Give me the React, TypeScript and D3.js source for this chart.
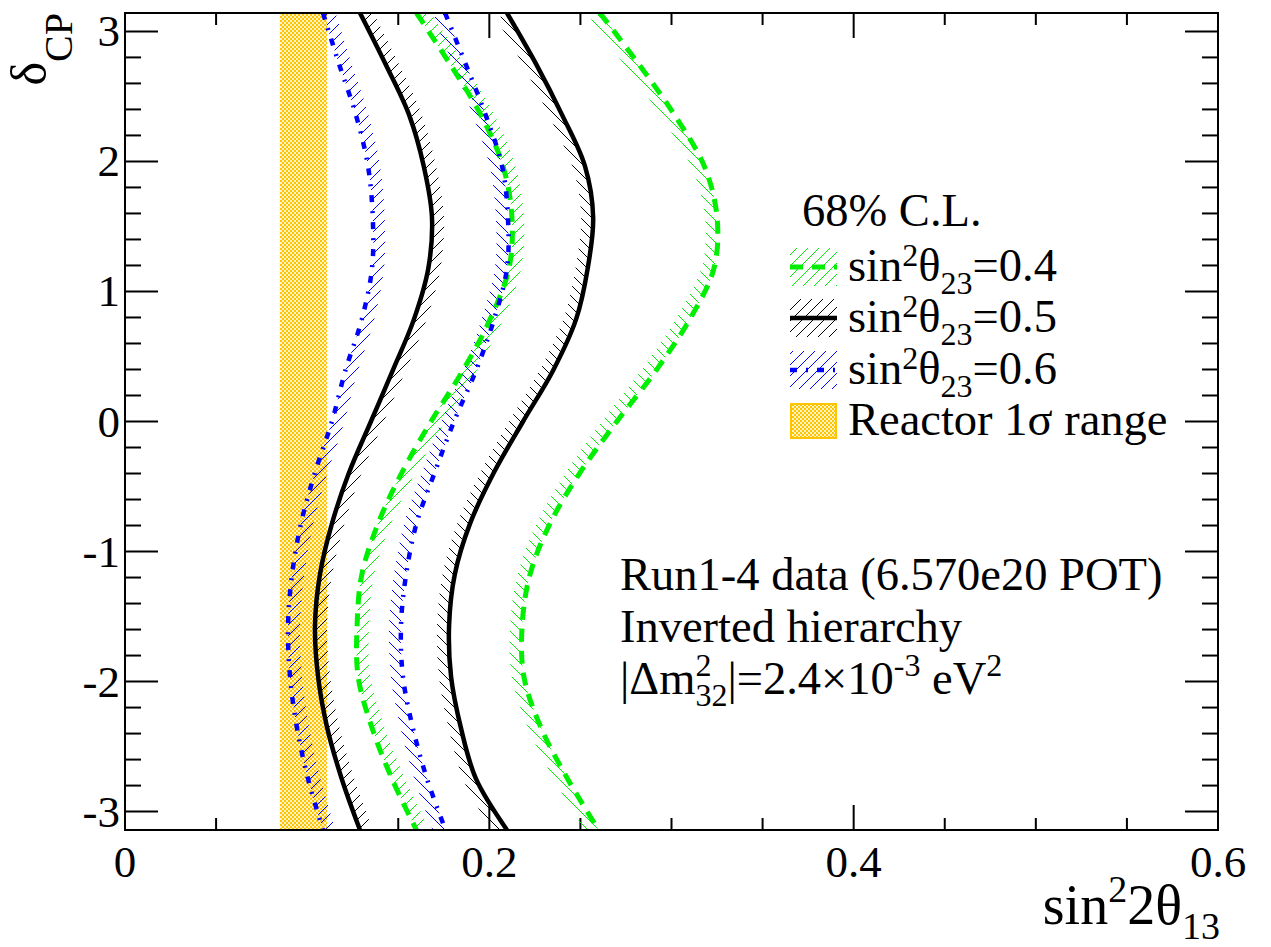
import React from 'react';
import * as d3 from 'd3';

// delta_CP sampling (radians), top to bottom
const DELTA_CP = [3.1416, 2.7489, 2.3562, 1.9635, 1.5708, 1.1781, 0.7854, 0.3927, 0, -0.3927, -0.7854, -1.1781, -1.5708, -1.9635, -2.3562, -2.7489, -3.1416];

// sin^2(theta23) = 0.4 (green dashed)
const GREEN_LEFT = [0.160, 0.1784, 0.1954, 0.2075, 0.2124, 0.2108, 0.2004, 0.1855, 0.168, 0.152, 0.1389, 0.130, 0.1274, 0.128, 0.1356, 0.1466, 0.160];
const GREEN_RIGHT = [0.2607, 0.282, 0.3017, 0.318, 0.325, 0.3233, 0.310, 0.2915, 0.270, 0.2498, 0.2333, 0.2223, 0.218, 0.219, 0.2284, 0.243, 0.260];

// sin^2(theta23) = 0.5 (black solid)
const BLACK_LEFT = [0.129, 0.143, 0.156, 0.164, 0.1685, 0.1665, 0.1586, 0.147, 0.135, 0.123, 0.1136, 0.107, 0.1043, 0.106, 0.111, 0.119, 0.129];
const BLACK_RIGHT = [0.2097, 0.2257, 0.240, 0.2525, 0.257, 0.254, 0.2476, 0.235, 0.2185, 0.2025, 0.1894, 0.181, 0.1779, 0.179, 0.1844, 0.1927, 0.2097];

// sin^2(theta23) = 0.6 (blue dash-dot)
const BLUE_LEFT = [0.1087, 0.1175, 0.1268, 0.1334, 0.136, 0.1356, 0.130, 0.121, 0.1136, 0.1043, 0.0966, 0.0917, 0.0895, 0.0906, 0.0944, 0.1005, 0.1087];
const BLUE_RIGHT = [0.1757, 0.187, 0.198, 0.207, 0.2102, 0.2097, 0.2026, 0.1927, 0.1806, 0.170, 0.160, 0.1543, 0.1515, 0.1526, 0.158, 0.1658, 0.176];

// reactor 1 sigma range in sin^2(2 theta13)
const REACTOR_RANGE = [0.085, 0.111];

const X_TICK_LABELS = ['0', '0.2', '0.4', '0.6'];
const Y_TICK_LABELS = ['-3', '-2', '-1', '0', '1', '2', '3'];
const LEGEND_VALUES = ['0.4', '0.5', '0.6'];

const SERIES = [
  { key: 'g', left: GREEN_LEFT, right: GREEN_RIGHT, color: '#00ee00', width: 5, dash: '13,9' },
  { key: 'k', left: BLACK_LEFT, right: BLACK_RIGHT, color: '#000000', width: 4.5, dash: undefined },
  { key: 'b', left: BLUE_LEFT, right: BLUE_RIGHT, color: '#0000ff', width: 4.5, dash: '7,9,2,9' },
];

export default function App() {
  const W = 1271, H = 947;
  const L = 125, R = 1218, T = 13, B = 830;
  const x = d3.scaleLinear().domain([0, 0.6]).range([L, R]);
  const y = d3.scaleLinear().domain([-Math.PI, Math.PI]).range([B, T]);
  const curve = d3.curveCatmullRom.alpha(0.5);

  const line = d3.line<[number, number]>().x(d => x(d[0])).y(d => y(d[1])).curve(curve);
  type Row = { d: number; l: number; r: number };
  const area = d3.area<Row>().y(d => y(d.d)).x0(d => x(d.l)).x1(d => x(d.r)).curve(curve);

  const xMinor = d3.range(0, 0.6001, 0.05);
  const yMinor = d3.range(-3, 3.0001, 0.2);
  const xMajor = X_TICK_LABELS.map(Number);
  const yMajor = Y_TICK_LABELS.map(Number);

  const fs = 45;
  const annFs = 46.5;
  const legFs = 46.5;
  const supFs = 32;
  const legRows = [267, 318, 370, 421];

  return (
    <svg width={W} height={H} style={{ position: 'absolute', left: 0, top: 0, background: '#fff' }}
      fontFamily="'Liberation Serif','Times New Roman',serif">
      <defs>
        <clipPath id="plotClip"><rect x={L} y={T} width={R - L} height={B - T} /></clipPath>
        {SERIES.map(s => (
          <React.Fragment key={s.key}>
            <pattern id={`hf-${s.key}`} patternUnits="userSpaceOnUse" width={11} height={11}>
              <path d="M-1,12 L12,-1" stroke={s.color} strokeWidth={1} />
            </pattern>
            <pattern id={`hb-${s.key}`} patternUnits="userSpaceOnUse" width={11} height={11}>
              <path d="M-1,-1 L12,12" stroke={s.color} strokeWidth={1} />
            </pattern>
            <clipPath id={`reg-${s.key}`}>
              <path d={area(DELTA_CP.map((d, i) => ({ d, l: s.left[i], r: s.right[i] })))!} />
            </clipPath>
          </React.Fragment>
        ))}
        <pattern id="checker" patternUnits="userSpaceOnUse" width={4} height={4}>
          <rect x={0} y={0} width={4} height={4} fill="#fff3c4" />
          <rect x={0} y={0} width={2} height={2} fill="#ffc400" />
          <rect x={2} y={2} width={2} height={2} fill="#ffc400" />
        </pattern>
      </defs>

      {/* ticks */}
      <g stroke="#000" strokeWidth={2}>
        {xMinor.map((v, i) => {
          const major = xMajor.some(m => Math.abs(m - v) < 1e-6);
          const len = major ? 25 : 12;
          return (
            <g key={`xt${i}`}>
              <line x1={x(v)} x2={x(v)} y1={B} y2={B - len} />
              <line x1={x(v)} x2={x(v)} y1={T} y2={T + len} />
            </g>
          );
        })}
        {yMinor.map((v, i) => {
          const major = yMajor.some(m => Math.abs(m - v) < 1e-6);
          const len = major ? 33 : 16;
          return (
            <g key={`yt${i}`}>
              <line x1={L} x2={L + len} y1={y(v)} y2={y(v)} />
              <line x1={R} x2={R - len} y1={y(v)} y2={y(v)} />
            </g>
          );
        })}
      </g>

      <g clipPath="url(#plotClip)">
        {/* reactor band */}
        <rect x={x(REACTOR_RANGE[0])} y={T} width={x(REACTOR_RANGE[1]) - x(REACTOR_RANGE[0])} height={B - T} fill="url(#checker)" />
        {/* hatched bands */}
        {SERIES.map(s => (
          <g key={`h${s.key}`} clipPath={`url(#reg-${s.key})`}>
            <path d={line(DELTA_CP.map((d, i) => [s.left[i], d] as [number, number]))!} fill="none" stroke={`url(#hf-${s.key})`} strokeWidth={24} />
            <path d={line(DELTA_CP.map((d, i) => [s.right[i], d] as [number, number]))!} fill="none" stroke={`url(#hb-${s.key})`} strokeWidth={24} />
          </g>
        ))}
        {/* contour lines */}
        {SERIES.map(s => (
          <g key={`l${s.key}`}>
            <path d={line(DELTA_CP.map((d, i) => [s.left[i], d] as [number, number]))!} fill="none" stroke={s.color} strokeWidth={s.width} strokeDasharray={s.dash} />
            <path d={line(DELTA_CP.map((d, i) => [s.right[i], d] as [number, number]))!} fill="none" stroke={s.color} strokeWidth={s.width} strokeDasharray={s.dash} />
          </g>
        ))}
      </g>

      {/* frame */}
      <rect x={L} y={T} width={R - L} height={B - T} fill="none" stroke="#000" strokeWidth={2} />

      {/* tick labels */}
      {X_TICK_LABELS.map((t, i) => (
        <text key={`xl${i}`} x={x(xMajor[i])} y={877} fontSize={fs} textAnchor="middle">{t}</text>
      ))}
      {Y_TICK_LABELS.map((t, i) => (
        <text key={`yl${i}`} x={120} y={y(yMajor[i]) + 15} fontSize={fs} textAnchor="end">{t}</text>
      ))}

      {/* axis titles */}
      <text x={1220} y={924} fontSize={56} textAnchor="end">
        sin<tspan fontSize={38} dy={-22}>2</tspan><tspan dy={22}>2θ</tspan><tspan fontSize={38} dy={15}>13</tspan>
      </text>
      <text transform={`translate(46,${T}) rotate(-90)`} fontSize={50} textAnchor="end">
        δ<tspan fontSize={40} dy={26}>CP</tspan>
      </text>

      {/* legend */}
      <text x={802} y={226} fontSize={legFs}>68% C.L.</text>
      {SERIES.map((s, i) => (
        <g key={`lg${s.key}`}>
          <rect x={790} y={legRows[i] - 19} width={47} height={38} fill={`url(#hf-${s.key})`} />
          <line x1={790} x2={837} y1={legRows[i]} y2={legRows[i]} stroke={s.color} strokeWidth={s.width} strokeDasharray={s.dash} />
          <text x={848} y={legRows[i] + 14} fontSize={legFs}>
            sin<tspan fontSize={supFs} dy={-15}>2</tspan><tspan dy={15}>θ</tspan><tspan fontSize={supFs} dy={13}>23</tspan><tspan dy={-13}>={LEGEND_VALUES[i]}</tspan>
          </text>
        </g>
      ))}
      <rect x={791} y={legRows[3] - 17} width={45} height={34} fill="url(#checker)" stroke="#ffc400" strokeWidth={2} />
      <text x={848} y={legRows[3] + 14} fontSize={legFs}>Reactor 1σ range</text>

      {/* annotation */}
      <text x={620} y={590} fontSize={annFs}>Run1-4 data (6.570e20 POT)</text>
      <text x={620} y={642} fontSize={annFs}>Inverted hierarchy</text>
      <text x={620} y={694} fontSize={annFs}>
        |Δm<tspan fontSize={supFs} dy={-18}>2</tspan><tspan fontSize={supFs} dx={-16} dy={30}>32</tspan><tspan dy={-12}>|=2.4×10</tspan><tspan fontSize={supFs} dy={-18}>-3</tspan><tspan dy={18}> eV</tspan><tspan fontSize={supFs} dy={-18}>2</tspan>
      </text>
    </svg>
  );
}
